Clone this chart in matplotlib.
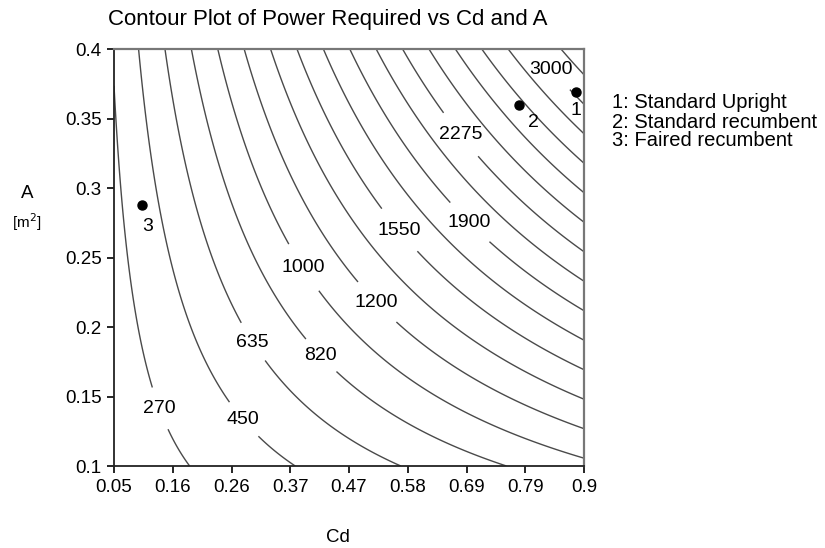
import numpy as np
import matplotlib
matplotlib.use("Agg")
import matplotlib.pyplot as plt

plt.rcParams['font.family'] = ['Liberation Sans', 'DejaVu Sans']

# ---- data ----
cd_range = [0.05, 0.9]
area_range = [0.1, 0.4]
aero_coef = 9530.0      # W per m^2 of Cd*A
base_power = 92.0       # W (rolling etc.)
levels = [270, 452, 634, 816, 998, 1180, 1362, 1544, 1726, 1908,
          2090, 2272, 2454, 2636, 2818, 3000, 3182, 3364]
labelled_idx = [0, 1, 2, 3, 4, 5, 7, 9, 11, 16]
label_texts = ['270', '450', '635', '820', '1000', '1200', '1550', '1900', '2275', '3000']
# label anchor positions (Cd, A)
label_pos = [(0.137, 0.142), (0.283, 0.133), (0.300, 0.189), (0.423, 0.179),
             (0.390, 0.242), (0.526, 0.218), (0.564, 0.269), (0.690, 0.274),
             (0.679, 0.339), (0.842, 0.386)]

pt_cd = [0.885, 0.783, 0.101]
pt_area = [0.369, 0.360, 0.288]
pt_ids = ['1', '2', '3']
pt_names = ['Standard Upright', 'Standard recumbent', 'Faired recumbent']

xticks = [0.05, 0.15625, 0.2625, 0.36875, 0.475, 0.58125, 0.6875, 0.79375, 0.9]
xtick_labels = ['0.05', '0.16', '0.26', '0.37', '0.47', '0.58', '0.69', '0.79', '0.9']
yticks = [0.1, 0.15, 0.2, 0.25, 0.3, 0.35, 0.4]
ytick_labels = ['0.1', '0.15', '0.2', '0.25', '0.3', '0.35', '0.4']

# ---- figure ----
fig = plt.figure(figsize=(8.25, 5.48), dpi=100)
ax = fig.add_axes([114/825, 1-466/548, 470/825, 417/548])

cd = np.linspace(cd_range[0], cd_range[1], 400)
ar = np.linspace(area_range[0], area_range[1], 400)
CD, AR = np.meshgrid(cd, ar)
P = aero_coef * CD * AR + base_power

line_color = '#4a4a4a'
lab_levels = [levels[i] for i in labelled_idx]
plain_levels = [lv for i, lv in enumerate(levels) if i not in labelled_idx]
ax.contour(CD, AR, P, levels=plain_levels, colors=line_color, linewidths=1.0)
cs = ax.contour(CD, AR, P, levels=lab_levels, colors=line_color, linewidths=1.0)
fmt = {lv: t for lv, t in zip(lab_levels, label_texts)}
ax.clabel(cs, fmt=fmt, inline=True, inline_spacing=6,
          fontsize=14, colors='black', manual=label_pos)
for t in cs.labelTexts:
    t.set_rotation(0)

ax.plot(pt_cd, pt_area, 'o', color='black', markersize=6.5, zorder=5)
offsets = [(0, -18), (14, -18), (5, -22)]
for x, y, s, off in zip(pt_cd, pt_area, pt_ids, offsets):
    ax.annotate(s, (x, y), xytext=off, textcoords='offset pixels',
                ha='center', va='center', fontsize=14)

ax.set_xlim(cd_range)
ax.set_ylim(area_range)
ax.set_xticks(xticks)
ax.set_xticklabels(xtick_labels)
ax.set_yticks(yticks)
ax.set_yticklabels(ytick_labels)
ax.tick_params(direction='out', length=5, width=1.2, labelsize=13.5, pad=4,
               top=False, right=False)
for side in ['left', 'bottom']:
    ax.spines[side].set_color('#222222')
    ax.spines[side].set_linewidth(1.3)
for side in ['top', 'right']:
    ax.spines[side].set_color('#777777')
    ax.spines[side].set_linewidth(1.6)

fig.text(338/825, 1-537/548, 'Cd', ha='center', va='center', fontsize=13.5)
fig.text(27/825, 1-193/548, 'A', ha='center', va='center', fontsize=13.5)
fig.text(27/825, 1-222/548, '[m$^2$]', ha='center', va='center', fontsize=11)
fig.text(328/825, 1-20/548, 'Contour Plot of Power Required vs Cd and A',
         ha='center', va='center', fontsize=16)

for i, (pid, name) in enumerate(zip(pt_ids, pt_names)):
    fig.text(612/825, 1-(103+19*i)/548, f'{pid}: {name}', ha='left', va='center',
             fontsize=14.5)

fig.savefig('out.png', dpi=100)
